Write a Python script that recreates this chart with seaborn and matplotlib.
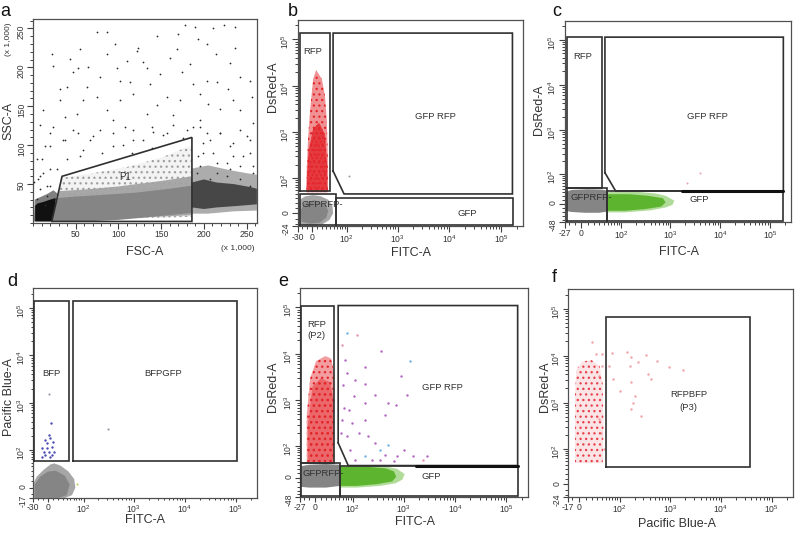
import numpy as np
import pandas as pd
import matplotlib
matplotlib.use("Agg")
import matplotlib.pyplot as plt
from matplotlib.colors import to_rgb
from matplotlib.ticker import FixedLocator, FixedFormatter, NullFormatter, MultipleLocator
import seaborn as sns

# ======================= DATA =======================
TOP = 262143

# ---- panel a (FSC-A / SSC-A, values in x 1,000) ----
a_gate_P1_x = [22, 34, 186, 186]
a_gate_P1_y = [2, 60, 110, 2]
a_gray_halo_x = [22, 186, 186, 150, 110, 70, 33.6]
a_gray_halo_y = [2, 8, 100, 84, 72, 64, 58]
a_gray_mid_x = [22, 186, 186, 150, 100, 60, 30.3]
a_gray_mid_y = [2, 10, 60, 54, 47, 43, 41]
a_gray_core_x = [22.5, 60, 100, 140, 186, 186, 160, 120, 80, 50, 28]
a_gray_core_y = [2, 2, 4, 8, 13, 48, 44, 39, 36, 34, 32]
a_black_left_fringe_x = [1, 22, 28.5, 24, 16, 8, 2]
a_black_left_fringe_y = [2, 2, 38, 42, 37, 33, 30]
a_black_left_core_x = [2.5, 22, 26.6, 26, 20, 12, 5, 2.5]
a_black_left_core_y = [2, 2, 25, 32, 30, 27, 25, 22]
a_black_right_fringe_x = [186, 186, 205, 230, 250, 262, 262, 235, 205]
a_black_right_fringe_y = [12, 70, 74, 68, 64, 62, 16, 15, 12]
a_black_right_core_x = [186, 186, 200, 215, 235, 255, 262, 262, 240, 215, 200]
a_black_right_core_y = [20, 52, 56, 52, 50, 46, 44, 24, 22, 20, 18]
a_dots = [(177.8, 254.7), (189.5, 251.3), (211, 250.5), (223.5, 254.7), (236.3, 251.3), (86.2, 245.4),
          (74.5, 245.4), (144.7, 239.9), (170, 242.9), (123.2, 224.3), (193.4, 236.9), (203.2, 229.4),
          (236.3, 225.2), (55, 223.5), (43.3, 210.4), (53, 199.8), (47.2, 193.5), (64.7, 201), (21.8, 216.7),
          (23.8, 201.9), (96, 229.4), (109.6, 208.2), (129.1, 207.4), (121.3, 220.9), (168.1, 223), (183.7, 204),
          (174, 193.5), (187.6, 178.7), (203.2, 182.9), (214.9, 180.8), (228.5, 172.4), (242.2, 187.1),
          (253.9, 182.9), (195.4, 166), (214.1, 216.7), (230.5, 206.1), (255.8, 161.8), (242.2, 145),
          (257.8, 128.1), (234.4, 157.6), (218.8, 147), (205.1, 152.5), (195.4, 132.3), (187.6, 123.8),
          (172, 157.6), (156.4, 161.8), (144.7, 151.3), (164.2, 138.6), (133, 140.7), (117.4, 166),
          (101.8, 157.6), (86.2, 145), (74.5, 161.8), (58.9, 157.6), (39.4, 174.5), (31.6, 157.6), (12.1, 145),
          (23.8, 123.8), (19.9, 98.5), (10.1, 81.6), (37.4, 107), (53, 115.4), (66.7, 107), (78.4, 119.6),
          (94, 132.3), (107.6, 123.8), (117.4, 107), (140.8, 117.5), (156.4, 115.4), (203.2, 115.4),
          (234.4, 102.7), (253.9, 90.1), (39.4, 81.6), (55, 85.9), (12.1, 64.8), (27.7, 69), (86.2, 216.7),
          (31.6, 172.4), (136.9, 178.7), (148.6, 191.4), (101.8, 182.9), (78.4, 187.1), (133, 199.8),
          (113.5, 180.8), (160.3, 212.5), (62.8, 174.5), (97.9, 199.8), (51.1, 140.7), (37.4, 136.5),
          (138.8, 96), (115.4, 90), (94, 98.5), (175.9, 109), (193.4, 85.9), (211, 90.1), (226.6, 77.4),
          (199.3, 102.7), (218.8, 115.4), (250, 111.2), (242.2, 73.2), (257.8, 64.8), (214.9, 64.8),
          (195.4, 73.2), (234.4, 85.9), (4.3, 31), (8.2, 43.7), (16, 35.2), (6.2, 56.3), (19.9, 47.9),
          (14, 22.6), (25.7, 31), (8.2, 125.9), (19.9, 115.4), (14, 98.5), (4.3, 81.6), (35.5, 107),
          (47.2, 119.6), (58.9, 94.3), (70.7, 111.2), (80.3, 90.1), (94, 115.4), (105.7, 100.6),
          (117.4, 119.6), (129.1, 107), (138.9, 123.8), (152.5, 113.3), (164.2, 125.9), (179.8, 119.6),
          (195.4, 123.8), (207.1, 107), (218.8, 115.4), (230.5, 98.5), (242.2, 119.6), (253.9, 107),
          (199.3, 90.1), (214.9, 77.4), (230.5, 69), (246.1, 85.9), (257.8, 73.2), (191.5, 64.8),
          (207.1, 56.3), (226.6, 60.6), (242.2, 56.3), (253.9, 47.9), (8.2, 60.6), (16, 48.1), (1.5, 52.1),
          (19.9, 69)]
a_ticks_major = [50, 100, 150, 200, 250]

# ---- panel b (FITC-A / DsRed-A) ----
b_lo = (-30, -24)
b_gate_RFP = [-26, 39, 48, 137000]
b_gate_GFPRFP_x = [48, 48, 164000, 164000, 87]
b_gate_GFPRFP_y = [144, 137000, 137000, 40, 40]
b_gate_GFP = [58, 170000, -22, 30]
b_gate_neg = [-26, 58, -22, 40]
b_gray_outer_x = [-28, -26, -12, 5, 22, 38, 48, 46, 35, 18, 2, -14, -26, -28]
b_gray_outer_y = [-15, -20, -23, -23, -20, -12, 0, 14, 26, 34, 37, 34, 26, 18]
b_gray_core_x = [-22, -5, 15, 30, 35, 25, 5, -15, -24]
b_gray_core_y = [-15, -19, -17, -8, 5, 18, 25, 20, 5]
b_red_outer_x = [-12, 34, 34, 31, 27, 20, 8, 2, -3, -8, -11]
b_red_outer_y = [45, 45, 300, 2000, 6000, 14000, 22000, 14000, 4000, 800, 150]
b_red_core_x = [-11, 33, 32, 27, 14, 2, -7, -10]
b_red_core_y = [45, 45, 200, 900, 1600, 1200, 400, 120]
b_dots = [(111, 111)]
b_labels = [("RFP", 1, 56000), ("GFP RFP", 5400, 2200), ("GFP", 21600, 0), ("GFPRFP-", 20, 16)]

# ---- panel c ----
c_lo = (-27, -48)
c_gate_RFP = [-24, 37, 41, 115000]
c_gate_GFPRFP_x = [43, 43, 184000, 184000, 76]
c_gate_GFPRFP_y = [109, 115000, 115000, 33, 33]
c_gate_GFP = [49, 184000, -46, 33]
c_gate_neg = [-24, 49, -46, 41]
c_bold_x = [1700, 184000]
c_bold_y = [33, 33]
c_gray_x = [-27, -27, -15, 10, 35, 49, 49, 30, 5, -15]
c_gray_y = [-16, 30, 36, 38, 37, 34, -18, -21, -21, -19]
c_green_fringe_x = [49, 49, 200, 500, 800, 1200, 1100, 800, 400, 120]
c_green_fringe_y = [-20, 31, 31, 26, 20, 8, -2, -8, -15, -20]
c_green_core_x = [49, 49, 150, 350, 700, 800, 650, 300, 120]
c_green_core_y = [-16, 24, 24, 20, 14, 4, -6, -12, -16]
c_dots = [(3900, 105), (2100, 59)]
c_labels = [("RFP", 2, 43600), ("GFP RFP", 5600, 2000), ("GFP", 3800, 10), ("GFPRFP-", 15, 16)]

# ---- panel d (FITC-A / Pacific Blue-A) ----
d_lo = (-30, -17)
d_gate_BFP = [-27, 45, 54, 138000]
d_gate_BFPGFP = [57, 105000, 54, 138000]
d_gray_outer_x = [-30, -30, -22, -8, 5, 12, 25, 45, 62, 66, 55, 35]
d_gray_outer_y = [-17, 5, 18, 32, 45, 48, 42, 28, 14, 0, -12, -17]
d_gray_core_x = [-26, -26, -15, 0, 15, 35, 48, 40, 20]
d_gray_core_y = [-17, 5, 18, 28, 30, 20, 5, -12, -17]
d_blue = [(5.1, 372), (1.3, 210), (-4.8, 163), (4.5, 176), (8.9, 150), (-11.4, 107), (-1.9, 107),
          (7.5, 116), (-8.1, 89), (1.3, 89), (10.8, 89), (-4.8, 75), (4.5, 68), (-11.4, 68), (7.5, 75),
          (-1.9, 138)]
d_gray_dots = [(1.3, 1500), (312, 278)]
d_yellow = [(71.6, 5.4)]
d_labels = [("BFP", 7.5, 4100), ("BFPGFP", 3860, 4100)]

# ---- panel e ----
e_lo = (-27, -48)
e_gate_RFP = [-24, 37, 35.5, 107000]
e_gate_GFPRFP_x = [47, 47, 165000, 165000, 80]
e_gate_GFPRFP_y = [119, 110000, 110000, 28, 28]
e_gate_GFP = [52, 170000, -44, 28]
e_gate_neg = [-24, 52, -44, 35.5]
e_bold_x = [1770, 165000]
e_bold_y = [28, 28]
e_gray_x = [-27, -27, -10, 20, 52, 52, 20, -10]
e_gray_y = [-20, 26, 30, 32, 30, -18, -22, -22]
e_green_fringe_x = [52, 52, 200, 450, 750, 1050, 950, 700, 350, 120]
e_green_fringe_y = [-22, 28, 28, 26, 20, 8, -4, -12, -18, -22]
e_green_core_x = [52, 52, 200, 450, 650, 720, 600, 300, 120]
e_green_core_y = [-18, 25, 25, 21, 14, 2, -8, -14, -18]
e_red_outer_x = [-14, 37, 37, 30, 18, 2, -8, -14]
e_red_outer_y = [38, 38, 4000, 8000, 9000, 7000, 3000, 500]
e_red_core_x = [-12, 36, 36, 28, 10, -4, -12]
e_red_core_y = [38, 38, 1000, 2500, 3000, 2000, 300]
e_dots_magenta = [(367, 11800), (177, 5300), (76, 3900), (61, 2200), (104, 1220), (177, 880), (276, 1330),
                  (491, 880), (707, 812), (1170, 1330), (427, 497), (177, 388), (96, 327), (76, 167),
                  (131, 198), (204, 167), (276, 119), (760, 56), (1010, 82), (1560, 56), (2800, 56),
                  (89, 82), (113, 45), (237, 45), (342, 45), (427, 62), (658, 40), (64, 686), (68, 7400),
                  (177, 2300), (880, 3300), (113, 2760), (59, 388), (82, 632), (54, 198)]
e_dots_blue = [(76, 27800), (1350, 7200), (342, 82), (491, 108), (177, 56)]
e_dots_pink = [(121, 25600), (2400, 45), (59, 15600)]
e_labels = [("RFP", 3, 43600), ("(P2)", 3, 24400), ("GFP RFP", 5600, 1940), ("GFP", 3460, 3.6),
            ("GFPRFP-", 15, 9.3)]

# ---- panel f (Pacific Blue-A / DsRed-A) ----
f_lo = (-17, -24)
f_gate_P3 = [51, 37900, 34.8, 65900]
f_red_outer_x = [-6, 42, 44, 42, 35, 20, 5, -4, -6]
f_red_outer_y = [45, 45, 300, 2500, 6000, 8000, 7500, 5000, 1500]
f_dots = [(21, 19300), (27, 10800), (69, 11400), (138, 11800), (173, 9200), (336, 10300), (561, 7800),
          (936, 5600), (1800, 5000), (74, 3150), (102, 1800), (173, 2700), (200, 1390), (362, 4000),
          (173, 717), (186, 1000), (160, 6100), (232, 7200), (41, 6100), (34, 3700), (58, 6100),
          (41, 10800), (34, 439), (37, 226), (45, 97), (270, 517), (418, 3150)]
f_labels = [("RFPBFP", 2350, 1500), ("(P3)", 2350, 780)]

# ======================= STYLE =======================
sns.set_style("white")
plt.rcParams['font.family'] = ['Liberation Sans', 'DejaVu Sans']
plt.rcParams['mathtext.fontset'] = 'custom'
plt.rcParams['mathtext.rm'] = 'Liberation Sans'
plt.rcParams['mathtext.it'] = 'Liberation Sans:italic'
plt.rcParams['mathtext.default'] = 'regular'
plt.rcParams['hatch.linewidth'] = 0.9

GRAY_CORE = '#858585'
GRAY_OUT = '#a6a6a6'
RED = '#e3262b'
GREEN = '#5db52f'
GATE = '#303030'
TXT = '#333333'

fig = plt.figure(figsize=(8.0, 5.36), dpi=100)
fig.patch.set_facecolor('white')


def frame(ax, tick_len=4.0, pad=1.0):
    for s in ax.spines.values():
        s.set_visible(True)
        s.set_color('#505050')
        s.set_linewidth(0.9)
    ax.tick_params(which='both', direction='out', colors='#404040', labelcolor=TXT,
                   bottom=True, left=True, top=False, right=False)
    ax.tick_params(which='major', length=tick_len, width=0.8, labelsize=6.2, pad=pad)
    ax.tick_params(which='minor', length=tick_len * 0.6, width=0.7)
    ax.tick_params(axis='y', which='major', labelrotation=90, pad=1.0)


def logicle(ax, which, W, lo):
    ln10 = np.log(10)
    fwd = lambda v, W=W: np.arcsinh(np.asarray(v, float) / (2 * W)) / ln10
    inv = lambda u, W=W: 2 * W * np.sinh(np.asarray(u, float) * ln10)
    majors = [lo, 0, 1e2, 1e3, 1e4, 1e5]
    labels = [str(lo), '0', '$10^2$', '$10^3$', '$10^4$', '$10^5$']
    minors = [v for v in range(-40, 100, 10) if lo < v < 100 and v != 0]
    minors += [m * 10 ** k for k in (2, 3, 4) for m in range(2, 10)] + [2e5]
    if which == 'x':
        ax.set_xscale('function', functions=(fwd, inv))
        ax.set_xlim(lo, TOP)
        axis = ax.xaxis
    else:
        ax.set_yscale('function', functions=(fwd, inv))
        ax.set_ylim(lo, TOP)
        axis = ax.yaxis
    axis.set_major_locator(FixedLocator(majors))
    axis.set_major_formatter(FixedFormatter(labels))
    axis.set_minor_locator(FixedLocator(minors))
    axis.set_minor_formatter(NullFormatter())


def blob(ax, xs, ys, color, alpha=1.0, z=2):
    ax.fill(xs, ys, color=color, alpha=alpha, lw=0, zorder=z)


def speckle(ax, xs, ys, color, hatch, face_alpha=0.25, z=2):
    r, g, b = to_rgb(color)
    ax.fill(xs, ys, facecolor=(r, g, b, face_alpha), edgecolor=color, hatch=hatch, lw=0, zorder=z)


def dots(ax, pts, color, s=3, alpha=1.0, z=3):
    df = pd.DataFrame(pts, columns=['x', 'y'])
    sns.scatterplot(data=df, x='x', y='y', ax=ax, color=color, s=s, linewidth=0,
                    alpha=alpha, legend=False, zorder=z)


def gate_poly(ax, xs, ys, lw=1.2):
    ax.plot(list(xs) + [xs[0]], list(ys) + [ys[0]], color=GATE, lw=lw, zorder=6,
            solid_joinstyle='miter')


def gate_rect(ax, r, lw=1.2):
    x0, x1, y0, y1 = r
    gate_poly(ax, [x0, x0, x1, x1], [y0, y1, y1, y0], lw)


def labels(ax, items, fs=6.8):
    for t, x, y in items:
        ax.text(x, y, t, fontsize=fs, color=TXT, ha='center', va='center', zorder=7,
                linespacing=1.0)


def axlabels(ax, xl, yl, xc, yc):
    ax.set_xlabel(xl, fontsize=9, color=TXT)
    ax.set_ylabel(yl, fontsize=9, color=TXT)
    ax.xaxis.set_label_coords(*xc)
    ax.yaxis.set_label_coords(*yc)


def px_axes(x0, y0, x1, y1):
    return fig.add_axes([x0 / 800, (536 - y1) / 536, (x1 - x0) / 800, (y1 - y0) / 536])


# ======================= PANEL a =======================
ax = px_axes(33, 19, 257, 223)
frame(ax)
speckle(ax, a_gray_halo_x, a_gray_halo_y, '#a0a0a0', '...', 0.12, 1)
blob(ax, a_gray_mid_x, a_gray_mid_y, '#a3a3a3', 0.95, 2)
blob(ax, a_gray_core_x, a_gray_core_y, GRAY_CORE, 1.0, 3)
blob(ax, a_black_left_fringe_x, a_black_left_fringe_y, '#4a4a4a', 0.7, 2)
blob(ax, a_black_left_core_x, a_black_left_core_y, '#111111', 1.0, 3)
blob(ax, a_black_right_fringe_x, a_black_right_fringe_y, '#5a5a5a', 0.5, 2)
blob(ax, a_black_right_core_x, a_black_right_core_y, '#2e2e2e', 0.8, 3)
dots(ax, a_dots, '#2a2a2a', s=1.6)
gate_poly(ax, a_gate_P1_x, a_gate_P1_y)
ax.text(107.6, 58.9, 'P1', fontsize=7, color=TXT, ha='center', va='center', zorder=7)
ax.set_xlim(0, TOP / 1000)
ax.set_ylim(0, TOP / 1000)
ax.xaxis.set_major_locator(FixedLocator(a_ticks_major))
ax.yaxis.set_major_locator(FixedLocator(a_ticks_major))
ax.xaxis.set_minor_locator(MultipleLocator(10))
ax.yaxis.set_minor_locator(MultipleLocator(10))
axlabels(ax, 'FSC-A', 'SSC-A', (0.5, -0.115), (-0.085, 0.5))
ax.text(-0.11, 0.90, '(x 1,000)', transform=ax.transAxes, rotation=90, fontsize=6.0,
        color=TXT, ha='center', va='center')
ax.text(0.915, -0.125, '(x 1,000)', transform=ax.transAxes, fontsize=6.0, color=TXT,
        ha='center', va='center')

# ======================= PANEL b =======================
ax = px_axes(298, 20, 523, 226)
frame(ax)
logicle(ax, 'x', 22.4, b_lo[0])
logicle(ax, 'y', 17.9, b_lo[1])
blob(ax, b_gray_outer_x, b_gray_outer_y, GRAY_OUT, 1.0, 2)
blob(ax, b_gray_core_x, b_gray_core_y, GRAY_CORE, 1.0, 3)
speckle(ax, b_red_outer_x, b_red_outer_y, RED, '...', 0.5, 2)
speckle(ax, b_red_core_x, b_red_core_y, RED, '....', 0.8, 3)
dots(ax, b_dots, '#999999', s=2)
gate_rect(ax, b_gate_RFP)
gate_poly(ax, b_gate_GFPRFP_x, b_gate_GFPRFP_y)
gate_rect(ax, b_gate_GFP)
gate_rect(ax, b_gate_neg)
labels(ax, b_labels)
logicle(ax, 'x', 22.4, b_lo[0])
logicle(ax, 'y', 17.9, b_lo[1])
axlabels(ax, 'FITC-A', 'DsRed-A', (0.5, -0.1), (-0.084, 0.675))

# ======================= PANEL c =======================
ax = px_axes(565, 21, 791, 222)
frame(ax)
logicle(ax, 'x', 16.3, c_lo[0])
logicle(ax, 'y', 22.9, c_lo[1])
blob(ax, c_gray_x, c_gray_y, GRAY_CORE, 1.0, 2)
blob(ax, c_green_fringe_x, c_green_fringe_y, '#a9d88e', 0.9, 2)
blob(ax, c_green_core_x, c_green_core_y, GREEN, 1.0, 3)
dots(ax, c_dots, '#e8a0b0', s=2)
gate_rect(ax, c_gate_RFP)
gate_poly(ax, c_gate_GFPRFP_x, c_gate_GFPRFP_y)
gate_rect(ax, c_gate_GFP)
gate_rect(ax, c_gate_neg)
ax.plot(c_bold_x, c_bold_y, color='#111111', lw=2.2, zorder=7)
labels(ax, c_labels)
logicle(ax, 'x', 16.3, c_lo[0])
logicle(ax, 'y', 22.9, c_lo[1])
axlabels(ax, 'FITC-A', 'DsRed-A', (0.504, -0.119), (-0.088, 0.557))

# ======================= PANEL d =======================
ax = px_axes(33, 288, 257, 498)
frame(ax, tick_len=3.0, pad=0.5)
logicle(ax, 'x', 20.8, d_lo[0])
logicle(ax, 'y', 16.3, d_lo[1])
blob(ax, d_gray_outer_x, d_gray_outer_y, GRAY_OUT, 1.0, 2)
blob(ax, d_gray_core_x, d_gray_core_y, GRAY_CORE, 1.0, 3)
dots(ax, d_blue, '#4b4bb0', s=3)
dots(ax, d_gray_dots, '#9a9aa8', s=2.5)
dots(ax, d_yellow, '#c8d060', s=2.5)
gate_rect(ax, d_gate_BFP)
gate_rect(ax, d_gate_BFPGFP)
labels(ax, d_labels)
logicle(ax, 'x', 20.8, d_lo[0])
logicle(ax, 'y', 16.3, d_lo[1])
axlabels(ax, 'FITC-A', 'Pacific Blue-A', (0.5, -0.078), (-0.08, 0.48))

# ======================= PANEL e =======================
ax = px_axes(300, 288, 528, 497)
frame(ax, tick_len=3.5)
logicle(ax, 'x', 18.9, e_lo[0])
logicle(ax, 'y', 21.8, e_lo[1])
blob(ax, e_gray_x, e_gray_y, GRAY_CORE, 1.0, 2)
blob(ax, e_green_fringe_x, e_green_fringe_y, '#a9d88e', 0.9, 2)
blob(ax, e_green_core_x, e_green_core_y, GREEN, 1.0, 3)
speckle(ax, e_red_outer_x, e_red_outer_y, RED, '...', 0.45, 2)
speckle(ax, e_red_core_x, e_red_core_y, RED, '...', 0.45, 3)
dots(ax, e_dots_magenta, '#b065c0', s=3)
dots(ax, e_dots_blue, '#70b0e0', s=3)
dots(ax, e_dots_pink, '#e890b0', s=3)
gate_rect(ax, e_gate_RFP)
gate_poly(ax, e_gate_GFPRFP_x, e_gate_GFPRFP_y)
gate_rect(ax, e_gate_GFP)
gate_rect(ax, e_gate_neg)
ax.plot(e_bold_x, e_bold_y, color='#111111', lw=2.2, zorder=7)
labels(ax, e_labels)
logicle(ax, 'x', 18.9, e_lo[0])
logicle(ax, 'y', 21.8, e_lo[1])
axlabels(ax, 'FITC-A', 'DsRed-A', (0.506, -0.09), (-0.092, 0.528))

# ======================= PANEL f =======================
ax = px_axes(568, 289, 793, 497)
frame(ax, tick_len=3.5)
logicle(ax, 'x', 16.3, f_lo[0])
logicle(ax, 'y', 18.1, f_lo[1])
speckle(ax, f_red_outer_x, f_red_outer_y, '#e8404a', '...', 0.14, 2)
dots(ax, f_dots, '#f07a80', s=3, alpha=0.7)
gate_rect(ax, f_gate_P3)
labels(ax, f_labels)
logicle(ax, 'x', 16.3, f_lo[0])
logicle(ax, 'y', 18.1, f_lo[1])
axlabels(ax, 'Pacific Blue-A', 'DsRed-A', (0.485, -0.1), (-0.077, 0.53))

# ======================= panel letters =======================
for t, x, y in [('a', 5, 11), ('b', 293, 12), ('c', 557, 12), ('d', 12, 282), ('e', 283, 282),
                ('f', 554, 277)]:
    fig.text(x / 800, 1 - y / 536, t, fontsize=13, color='#111111', ha='center', va='center')

fig.savefig('out.png', dpi=100, facecolor='white')
